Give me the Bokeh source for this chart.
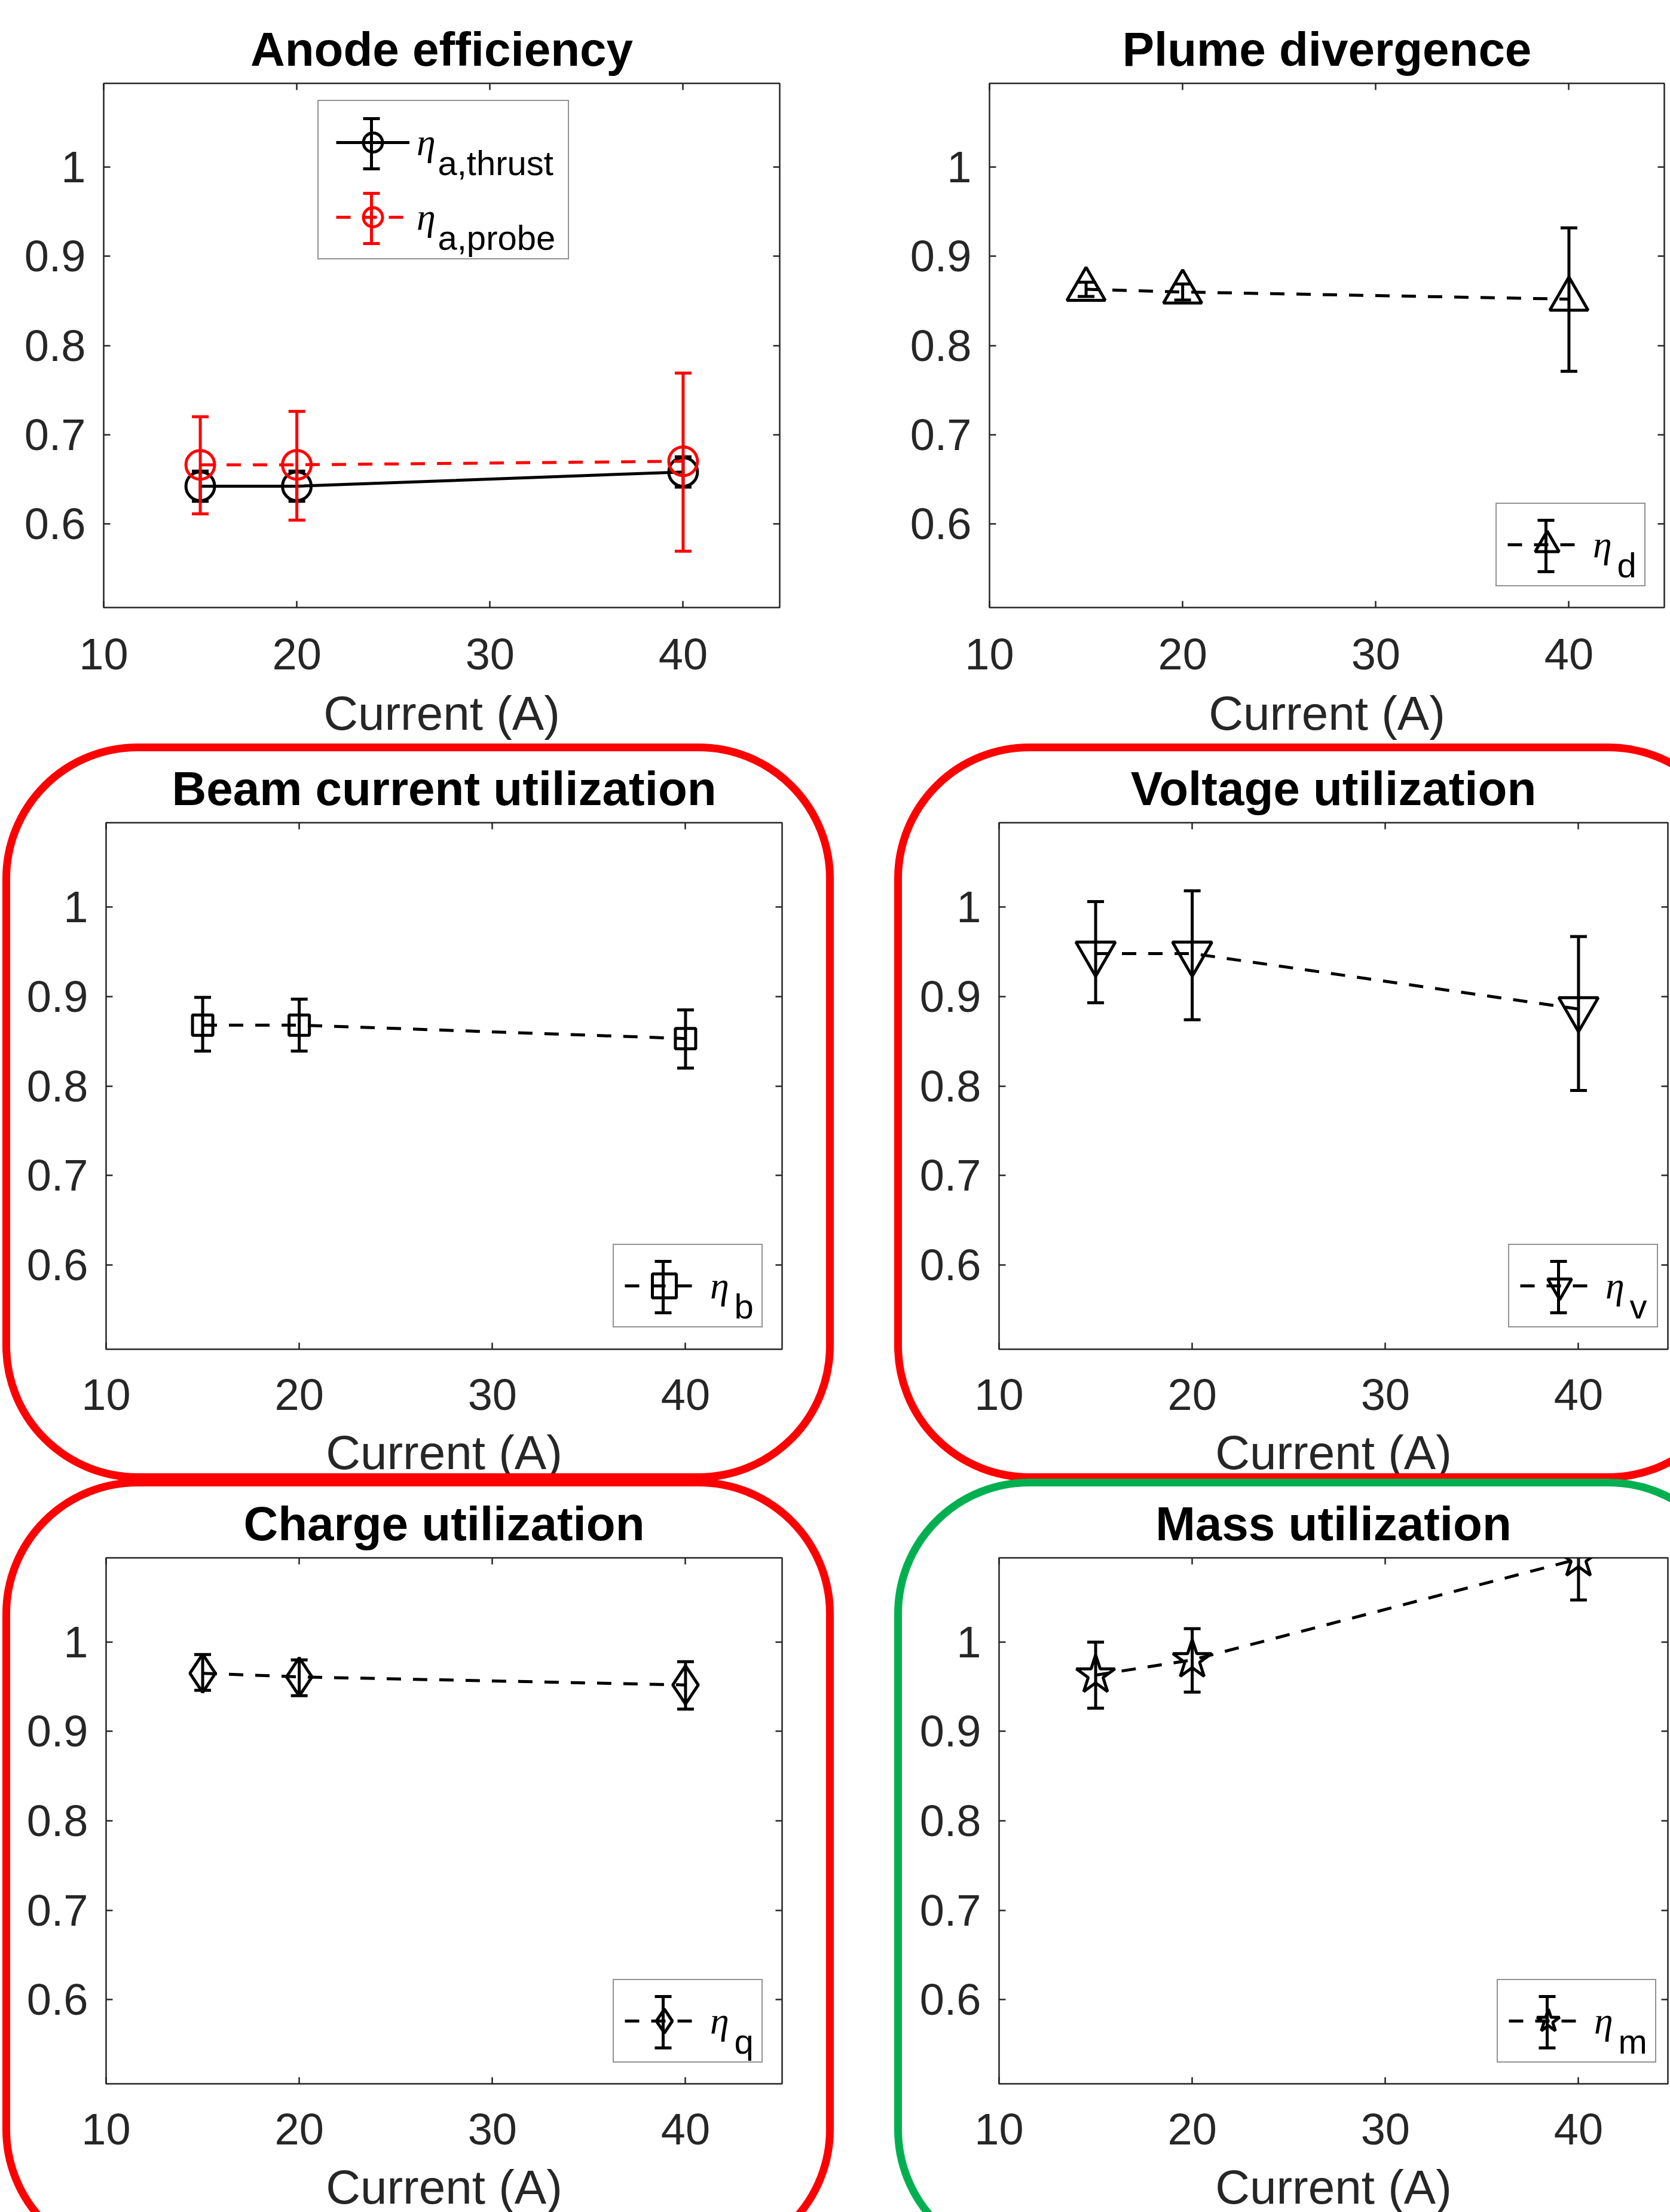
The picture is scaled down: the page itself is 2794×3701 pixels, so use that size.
from bokeh.plotting import figure
from bokeh.models import (Range1d, FixedTicker, LinearAxis, Legend, LegendItem, Label,
                          Whisker, TeeHead, ColumnDataSource, Div)
from bokeh.layouts import column, row
from bokeh.embed import file_html
from bokeh.resources import INLINE

# ---------------- data ----------------
current = [15, 20, 40]

anode_thrust = [0.642, 0.642, 0.658]
anode_thrust_lo = [0.625, 0.625, 0.641]
anode_thrust_hi = [0.659, 0.659, 0.675]
anode_probe = [0.666, 0.666, 0.670]
anode_probe_lo = [0.611, 0.604, 0.569]
anode_probe_hi = [0.720, 0.726, 0.769]

plume = [0.863, 0.860, 0.852]
plume_lo = [0.855, 0.851, 0.771]
plume_hi = [0.871, 0.869, 0.932]

beam = [0.868, 0.868, 0.853]
beam_lo = [0.839, 0.839, 0.820]
beam_hi = [0.899, 0.897, 0.885]

voltage = [0.948, 0.948, 0.886]
voltage_lo = [0.893, 0.874, 0.795]
voltage_hi = [1.006, 1.018, 0.967]

charge = [0.965, 0.961, 0.952]
charge_lo = [0.946, 0.940, 0.925]
charge_hi = [0.986, 0.980, 0.978]

mass = [0.963, 0.980, 1.093]
mass_lo = [0.926, 0.944, 1.047]
mass_hi = [1.000, 1.015, 1.139]

x_ticks = [10, 20, 30, 40]
y_ticks = [0.6, 0.7, 0.8, 0.9, 1.0]
y_tick_labels = ["0.6", "0.7", "0.8", "0.9", "1"]
x_label = "Current (A)"
Y0, Y1 = 0.5058, 1.0942
X0 = 10

FONT = "Liberation Sans"
SERIF = "Liberation Serif"
TXT = "#262626"
RED = "#FF0000"
GREEN = "#00B050"
PX_PER_X = 1131 / 35.0
LW = 5


def style_axis(ax, ticks, show, standoff=0):
    ax.ticker = FixedTicker(ticks=ticks)
    ax.major_tick_in = 11
    ax.major_tick_out = 0
    ax.minor_tick_in = 0
    ax.minor_tick_out = 0
    ax.minor_tick_line_color = None
    ax.major_tick_line_color = TXT
    ax.major_tick_line_width = 2.5
    ax.axis_line_color = None
    if show:
        ax.major_label_text_font = FONT
        ax.major_label_text_font_size = "74px"
        ax.major_label_text_color = TXT
        ax.major_label_standoff = standoff
    else:
        ax.major_label_text_font_size = "0px"
        ax.major_label_text_color = None
        ax.major_label_standoff = 0


def make_panel(title, w, h, fl, ft, mbr, mbb, tick_std, label_std):
    fw = w - fl - mbr
    x_end = X0 + fw / PX_PER_X
    p = figure(width=w, height=h, output_backend="svg", toolbar_location=None,
               x_range=Range1d(X0, x_end), y_range=Range1d(Y0, Y1),
               x_axis_type=None, y_axis_type=None,
               min_border_left=fl, min_border_top=ft,
               min_border_right=mbr, min_border_bottom=mbb, title=title)
    p.background_fill_color = "white"
    p.border_fill_color = "white"
    p.border_fill_alpha = 0.0
    p.outline_line_color = TXT
    p.outline_line_width = 2.5
    p.title.text_font = FONT
    p.title.text_font_size = "80px"
    p.title.text_font_style = "bold"
    p.title.text_color = "black"
    p.title.align = "center"
    p.title.standoff = 26

    xb = LinearAxis()
    style_axis(xb, x_ticks, True, tick_std)
    xb.axis_label = x_label
    xb.axis_label_text_font = FONT
    xb.axis_label_text_font_size = "80px"
    xb.axis_label_text_font_style = "normal"
    xb.axis_label_text_color = TXT
    xb.axis_label_standoff = label_std
    p.add_layout(xb, "below")

    yl = LinearAxis()
    style_axis(yl, y_ticks, True, 30)
    yl.major_label_overrides = {t: s for t, s in zip(y_ticks, y_tick_labels)}
    p.add_layout(yl, "left")

    xt = LinearAxis()
    style_axis(xt, x_ticks, False)
    p.add_layout(xt, "above")
    yr = LinearAxis()
    style_axis(yr, y_ticks, False)
    p.add_layout(yr, "right")
    return p


def series(p, y, lo, hi, color, dash, marker, msize):
    ln = p.line(current, y, line_color=color, line_width=LW, line_dash=dash)
    p.segment(x0=current, y0=lo, x1=current, y1=hi, line_color=color, line_width=LW)
    p.scatter(current, lo, marker="dash", size=28, line_color=color, line_width=LW)
    p.scatter(current, hi, marker="dash", size=28, line_color=color, line_width=LW)
    mk = p.scatter(current, y, marker=marker, size=msize, line_color=color,
                   line_width=LW, fill_color=None)
    return ln, mk


def legend_errorbar(p, bx, cy, half, color):
    src = ColumnDataSource(dict(b=[bx], lo=[cy - half], hi=[cy + half]))
    p.add_layout(Whisker(source=src, base="b", lower="lo", upper="hi", dimension="height",
                         base_units="screen", lower_units="screen", upper_units="screen",
                         level="overlay", line_color=color, line_width=LW,
                         lower_head=TeeHead(size=28, line_color=color, line_width=LW),
                         upper_head=TeeHead(size=28, line_color=color, line_width=LW)))


def subscript(p, x, y, text):
    p.add_layout(Label(x=x, y=y, x_units="screen", y_units="screen", text=text,
                       level="overlay", text_font=FONT, text_font_size="58px",
                       text_color="black", text_baseline="alphabetic", text_align="left"))


def make_legend(items, loc, padding, gw, gh, spacing, standoff, lw):
    return Legend(items=items, location=loc, padding=padding, glyph_width=gw, glyph_height=gh,
                  spacing=spacing, label_standoff=standoff, label_width=lw, label_height=20,
                  margin=0, border_line_color=TXT, border_line_width=2,
                  background_fill_color="white", background_fill_alpha=0.0,
                  label_text_font=SERIF, label_text_font_style="italic",
                  label_text_font_size="64px", label_text_color="black")


def single_panel(title, geom, y, lo, hi, marker, msize, sub, loc, lw=68):
    p = make_panel(title, *geom)
    ln, mk = series(p, y, lo, hi, "black", "24 20", marker, msize)
    p.add_layout(make_legend([LegendItem(label="\u03b7", renderers=[ln, mk])],
                             loc, 18, 132, 100, 0, 11, lw))
    legend_errorbar(p, loc[0] + 18 + 66, loc[1] + 68, 43, "black")
    subscript(p, loc[0] + 203, loc[1] + 36, sub)
    return p


# page rows (figures overlap slightly through negative CSS margins; the page
# itself stays 3701 px tall and clips the overflow of the last row)
# row 1: y 0..1295, row 2: y 1256..2532, row 3: y 2486..3761 (clipped at 3701)
# geometry: width, height, frame-left, frame-top, right margin, bottom margin,
#           tick-label standoff, axis-label standoff
G_TL = (1397, 1295, 173, 139, 93, 275, 52, 26)
G_TR = (1397, 1295, 258, 136, 10, 279, 52, 26)
G_ML = (1397, 1276, 177, 120, 89, 275, 50, 24)
G_MR = (1397, 1276, 274, 120, 4, 275, 50, 24)
G_BL = (1397, 1275, 177, 120, 89, 275, 50, 24)
G_BR = (1397, 1275, 274, 120, 4, 275, 50, 24)

# ---------------- panels ----------------
p1 = make_panel("Anode efficiency", *G_TL)
l1, m1 = series(p1, anode_thrust, anode_thrust_lo, anode_thrust_hi, "black", "solid", "circle", 48)
l2, m2 = series(p1, anode_probe, anode_probe_lo, anode_probe_hi, RED, "24 20", "circle", 48)
loc1 = (358, 582)
p1.add_layout(make_legend([LegendItem(label="\u03b7", renderers=[l1, m1]),
                           LegendItem(label="\u03b7", renderers=[l2, m2])],
                          loc1, 29, 123, 80, 45, 12, 224))
legend_errorbar(p1, loc1[0] + 29 + 61, 776, 42, "black")
legend_errorbar(p1, loc1[0] + 29 + 61, 651, 42, RED)
subscript(p1, loc1[0] + 201, 744, "a,thrust")
subscript(p1, loc1[0] + 201, 619, "a,probe")

p2 = single_panel("Plume divergence", G_TR, plume, plume_lo, plume_hi,
                  "triangle", 64, "d", (847, 35))
p3 = single_panel("Beam current utilization", G_ML, beam, beam_lo, beam_hi,
                  "square", 34, "b", (848, 36))
p4 = single_panel("Voltage utilization", G_MR, voltage, voltage_lo, voltage_hi,
                  "inverted_triangle", 66, "v", (852, 36))
p5 = single_panel("Charge utilization", G_BL, charge, charge_lo, charge_hi,
                  "diamond", 64, "q", (848, 35))
p6 = single_panel("Mass utilization", G_BR, mass, mass_lo, mass_hi,
                  "star", 68, "m", (833, 35), lw=84)

# rounded highlight frames (page pixel positions: left, top, width, height)
boxes = [(RED, 4, 1244, 1391, 1234), (RED, 1496, 1244, 1421, 1234),
         (RED, 4, 2474, 1391, 1315), (GREEN, 1496, 2474, 1421, 1315)]
html = "".join(
    '<div style="position:fixed; box-sizing:border-box; border:13px solid %s; '
    'border-radius:226px; left:%dpx; top:%dpx; width:%dpx; height:%dpx; '
    'pointer-events:none; z-index:1000;"></div>' % b for b in boxes)
overlay = Div(text=html, width=0, height=0)

r1 = row(p1, p2, styles={"margin-bottom": "-39px"})
r2 = row(p3, p4, styles={"margin-bottom": "-46px"})
r3 = row(p5, p6, styles={"margin-bottom": "-60px"})
layout = column(r1, r2, r3, overlay, styles={"overflow": "hidden"})
open("out.html", "w").write(file_html(layout, INLINE))
